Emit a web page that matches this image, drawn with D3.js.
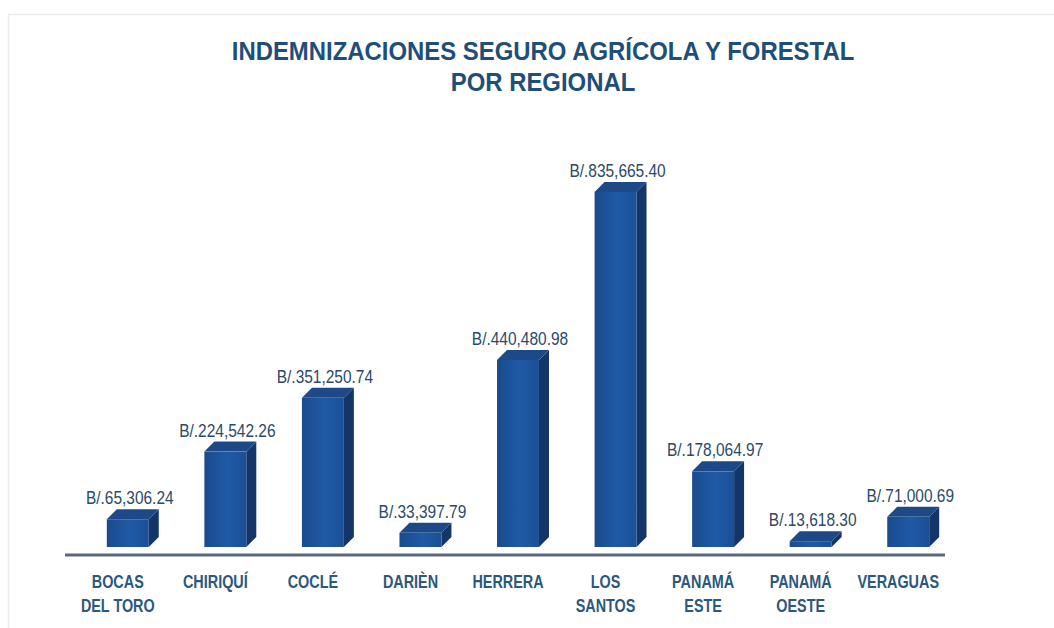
<!DOCTYPE html>
<html>
<head>
<meta charset="utf-8">
<script src="https://cdn.jsdelivr.net/npm/d3@7"></script>
<style>
  html, body { margin: 0; padding: 0; background: #fff; }
  svg { display: block; }
</style>
</head>
<body>
<svg id="chart" width="1054" height="628"></svg>
<script>
const regions = [
  ["BOCAS", "DEL TORO"], ["CHIRIQUÍ"], ["COCLÉ"], ["DARIÈN"], ["HERRERA"],
  ["LOS", "SANTOS"], ["PANAMÁ", "ESTE"], ["PANAMÁ", "OESTE"], ["VERAGUAS"]
];
const values = [65306.24, 224542.26, 351250.74, 33397.79, 440480.98, 835665.40, 178064.97, 13618.30, 71000.69];
const titleLines = ["INDEMNIZACIONES SEGURO AGRÍCOLA Y FORESTAL", "POR REGIONAL"];

const data = regions.map((r, i) => ({ key: r.join(" "), lines: r, value: values[i] }));

const svg = d3.select("#chart");
const baseY = 547;
const depth = 10;
const font = "'Liberation Sans', Arial, sans-serif";

const x = d3.scaleBand()
  .domain(data.map(d => d.key))
  .range([79, 957])
  .paddingInner(0.57)
  .paddingOuter(0.285);

const y = d3.scaleLinear()
  .domain([0, 835665.40])
  .range([baseY, 192]);

// faint frame around the picture
svg.append("rect")
  .attr("x", 8.5).attr("y", 14.5)
  .attr("width", 1060).attr("height", 640)
  .attr("fill", "none")
  .attr("stroke", "#ececec")
  .attr("stroke-width", 1.5);

// gradient for front faces
const defs = svg.append("defs");
const grad = defs.append("linearGradient").attr("id", "front").attr("x1", 0).attr("x2", 1);
grad.append("stop").attr("offset", "0%").attr("stop-color", "#1a4a8c");
grad.append("stop").attr("offset", "55%").attr("stop-color", "#1f5aa6");
grad.append("stop").attr("offset", "100%").attr("stop-color", "#1b4f95");

// narrow text: squeeze horizontally around anchor point
const squeeze = (sx) => (cx, cy) => `translate(${cx},${cy}) scale(${sx},1)`;

// title
svg.append("g").selectAll("text")
  .data(titleLines)
  .enter()
  .append("text")
  .attr("transform", (d, i) => squeeze(0.92)(543, 60 + i * 31))
  .attr("text-anchor", "middle")
  .attr("font-family", font)
  .attr("font-weight", "bold")
  .attr("font-size", 26)
  .attr("fill", "#1f4f78")
  .text(d => d);

// axis baseline
svg.append("line")
  .attr("x1", 65).attr("x2", 945)
  .attr("y1", 555).attr("y2", 555)
  .attr("stroke", "#5a6782")
  .attr("stroke-width", 3);

const bars = svg.append("g").selectAll("g")
  .data(data)
  .enter()
  .append("g");

// side face
bars.append("path")
  .attr("d", d => {
    const x0 = x(d.key) + x.bandwidth(), yt = y(d.value);
    return `M${x0},${yt} L${x0 + depth},${yt - depth} L${x0 + depth},${baseY - depth} L${x0},${baseY} Z`;
  })
  .attr("fill", "#133568");

// top face
bars.append("path")
  .attr("d", d => {
    const x0 = x(d.key), x1 = x0 + x.bandwidth(), yt = y(d.value);
    return `M${x0},${yt} L${x0 + depth},${yt - depth} L${x1 + depth},${yt - depth} L${x1},${yt} Z`;
  })
  .attr("fill", "#1d4a86");

// front face
bars.append("rect")
  .attr("x", d => x(d.key))
  .attr("y", d => y(d.value))
  .attr("width", x.bandwidth())
  .attr("height", d => baseY - y(d.value))
  .attr("fill", "url(#front)");

// value labels
bars.append("text")
  .attr("transform", d => squeeze(0.86)(x(d.key) + x.bandwidth() / 2 + 2, y(d.value) - depth - 5))
  .attr("text-anchor", "middle")
  .attr("font-family", font)
  .attr("font-size", 18)
  .attr("fill", "#2b4a6a")
  .text(d => "B/." + d3.format(",.2f")(d.value));

// category labels
const cat = svg.append("g").selectAll("text")
  .data(data)
  .enter()
  .append("text")
  .attr("transform", d => squeeze(0.8)(x(d.key) + x.bandwidth() / 2 - 10, 588))
  .attr("text-anchor", "middle")
  .attr("font-family", font)
  .attr("font-weight", "bold")
  .attr("font-size", 18)
  .attr("fill", "#2c587e");

cat.selectAll("tspan")
  .data(d => d.lines)
  .enter()
  .append("tspan")
  .attr("x", 0)
  .attr("dy", (d, i) => i === 0 ? 0 : 24)
  .text(d => d);
</script>
</body>
</html>
